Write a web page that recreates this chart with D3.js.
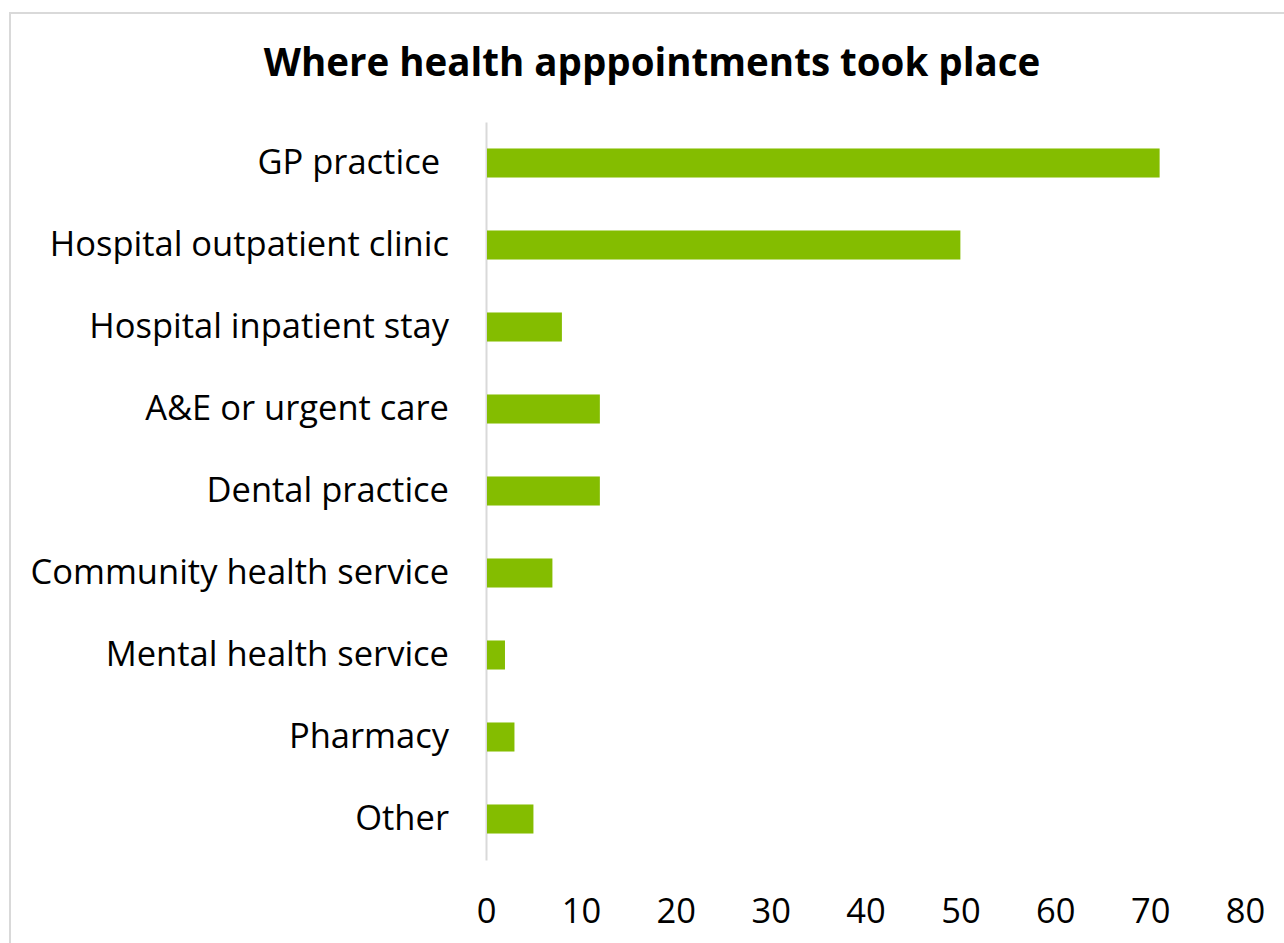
<!DOCTYPE html>
<html lang="en">
  <head>
    <meta charset="utf-8" />
    <title>Where health appointments took place</title>
    <script src="https://cdnjs.cloudflare.com/ajax/libs/d3/7.8.5/d3.min.js"></script>
    <style type="text/css">
      body {
        margin: 0;
        background: #fff;
      }
      .frame {
        fill: none;
        stroke: #d9d9d9;
        stroke-width: 2;
      }
      .title {
        font-family: "Open Sans", sans-serif;
        font-weight: 700;
        font-size: 38.5px;
        fill: #000;
      }
      .axis text {
        font-family: "Open Sans", sans-serif;
        font-size: 34.5px;
        fill: #000;
        white-space: pre;
      }
      .axis .domain {
        stroke: #d9d9d9;
        stroke-width: 2;
      }
      .bar {
        fill: #84bd00;
      }
    </style>
  </head>

  <body>
    <div id="chart"></div>

    <script>
      // data
      const categories = [
        "GP practice ",
        "Hospital outpatient clinic",
        "Hospital inpatient stay",
        "A&E or urgent care",
        "Dental practice",
        "Community health service",
        "Mental health service",
        "Pharmacy",
        "Other",
      ];
      const values = [71, 50, 8, 12, 12, 7, 2, 3, 5];
      const xTicks = [0, 10, 20, 30, 40, 50, 60, 70, 80];
      const title = "Where health apppointments took place";

      const width = 1284;
      const height = 943;

      const svg = d3
        .select("#chart")
        .append("svg")
        .attr("width", width)
        .attr("height", height);

      // light frame round the chart (runs off right and bottom edge)
      svg
        .append("rect")
        .attr("class", "frame")
        .attr("x", 10)
        .attr("y", 13)
        .attr("width", width + 20)
        .attr("height", height + 20);

      svg
        .append("text")
        .attr("class", "title")
        .attr("x", 652)
        .attr("y", 76)
        .attr("text-anchor", "middle")
        .text(title);

      const x = d3.scaleLinear().domain([0, 80]).range([486, 1245]);
      const y = d3
        .scaleBand()
        .domain(categories)
        .range([122, 860])
        .paddingInner(0.646)
        .paddingOuter(0.323);

      // x tick labels only, no line
      const xAxis = d3
        .axisBottom(x)
        .tickValues(xTicks)
        .tickSize(0)
        .tickPadding(0);
      svg
        .append("g")
        .attr("class", "axis x")
        .attr("transform", "translate(0, 898)")
        .call(xAxis)
        .call((g) => g.select(".domain").remove())
        .selectAll("text")
        .attr("dy", "0.71em");

      const yAxis = d3.axisLeft(y).tickSize(0).tickSizeOuter(0).tickPadding(37);
      svg
        .append("g")
        .attr("class", "axis y")
        .attr("transform", `translate(${x(0)}, 0)`)
        .call(yAxis);

      svg
        .append("g")
        .selectAll("rect")
        .data(categories)
        .join("rect")
        .attr("class", "bar")
        .attr("x", x(0) + 1)
        .attr("y", (d) => y(d))
        .attr("width", (d, i) => x(values[i]) - x(0) - 1)
        .attr("height", y.bandwidth());
    </script>
  </body>
</html>
